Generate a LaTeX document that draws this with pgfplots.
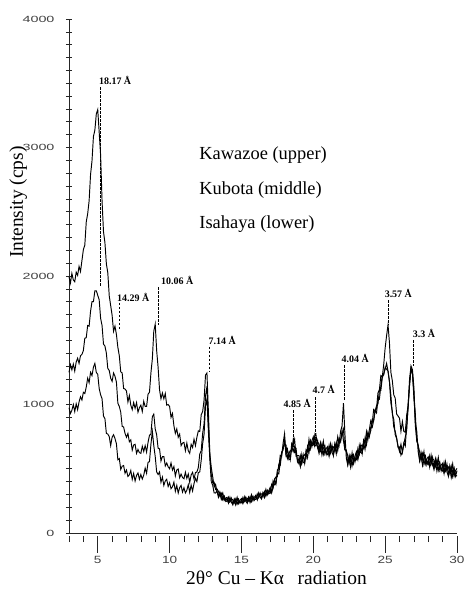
\documentclass[border=0pt]{standalone}
\usepackage{fontspec}
\setmainfont{Liberation Serif}
\setsansfont{Liberation Sans}
\usepackage{pgfplots}
\usepackage{pgfplotstable}
\pgfplotsset{compat=1.18}

% x = 2theta, u = Kawazoe (upper), m = Kubota (middle), l = Isahaya (lower)
\pgfplotstableread{
x u m l
3.0 1995 1250 975
3.1 1945 1310 930
3.2 2020 1270 955
3.3 1970 1315 1000
3.4 1955 1260 945
3.5 2030 1330 1005
3.6 2005 1360 960
3.7 2075 1320 1020
3.8 2035 1380 1060
3.9 2120 1390 1035
4.0 2205 1420 1095
4.1 2240 1515 1085
4.2 2420 1520 1135
4.3 2485 1615 1205
4.4 2585 1610 1170
4.5 2790 1725 1250
4.6 2895 1800 1225
4.7 3085 1800 1290
4.8 3135 1885 1320
4.9 3260 1885 1250
5.0 3295 1850 1235
5.1 3120 1815 1125
5.2 2940 1670 1075
5.3 2585 1615 1045
5.4 2345 1470 910
5.5 2260 1455 890
5.6 2095 1400 775
5.7 2025 1280 770
5.8 1845 1265 750
5.9 1770 1205 680
6.0 1695 1180 745
6.1 1570 1245 765
6.2 1610 1220 735
6.3 1545 1175 695
6.4 1445 1010 570
6.5 1380 985 580
6.6 1255 940 495
6.7 1245 830 520
6.8 1125 825 525
6.9 1120 775 465
7.0 1105 745 490
7.1 1020 775 440
7.2 1070 710 453
7.3 995 725 487
7.4 960 645 417
7.5 1015 685 463
7.6 970 690 405
7.7 1015 620 448
7.8 940 650 467
7.9 975 625 418
8.0 995 620 455
8.1 945 675 420
8.2 1025 635 450
8.3 985 680 505
8.4 985 630 465
8.5 1080 705 550
8.6 1095 760 555
8.7 1245 770 690
8.8 1355 905 790
8.9 1570 925 680
9.0 1625 810 595
9.1 1420 765 475
9.2 1290 660 455
9.3 1115 655 475
9.4 1045 560 395
9.5 1090 595 435
9.6 1045 595 370
9.7 1085 522 405
9.8 995 545 418
9.9 1000 515 362
10.0 985 500 391
10.1 900 545 345
10.2 930 490 360
10.3 835 517 395
10.4 775 444 325
10.5 810 491 370
10.6 745 498 311
10.7 770 430 353
10.8 680 458 370
10.9 700 432 318
11.0 705 422 352
11.1 640 473 312
11.2 700 425 333
11.3 640 459 376
11.4 620 394 316
11.5 690 452 373
11.6 665 472 327
11.7 730 420 385
11.8 680 470 425
11.9 745 475 400
12.0 795 510 470
12.1 790 615 475
12.2 920 640 565
12.3 945 775 695
12.4 1035 850 770
12.5 1230 1065 990
12.6 1245 1140 1040
12.7 945 845 790
12.8 615 605 580
12.9 510 455 400
13.0 438 391 371
13.1 359 395 312
13.2 378 338 311
13.3 320 343 330
13.4 290 324 277
13.5 321 287 306
13.6 286 309 261
13.7 312 257 285
13.8 254 274 291
13.9 272 252 249
14.0 278 244 269
14.1 234 278 235
14.2 278 242 245
14.3 238 265 271
14.4 221 259 223
14.5 266 233 257
14.6 241 265 218
14.7 278 224 251
14.8 229 250 266
14.9 255 236 232
15.0 268 235 259
15.1 231 276 232
15.2 282 246 248
15.3 246 273 279
15.4 233 271 235
15.5 281 248 272
15.6 259 283 236
15.7 298 244 271
15.8 251 272 288
15.9 279 260 256
16.0 294 261 285
16.1 259 304 260
16.2 312 276 278
16.3 278 305 311
16.4 267 305 269
16.5 317 284 308
16.6 298 322 275
16.7 340 286 313
16.8 297 318 334
16.9 329 310 306
17.0 355 308 342
17.1 315 378 315
17.2 405 352 353
17.3 375 412 417
17.4 385 437 380
17.5 490 440 468
17.6 505 535 460
17.7 605 525 555
17.8 595 617 630
17.9 700 665 645
18.0 773 694 730
18.1 611 686 607
18.2 652 582 583
18.3 570 618 626
18.4 574 641 571
18.5 699 635 676
18.6 683 724 634
18.7 729 626 673
18.8 597 632 659
18.9 603 565 554
19.0 603 539 580
19.1 521 601 517
19.2 612 542 545
19.3 550 598 608
19.4 544 611 543
19.5 649 585 628
19.6 633 674 586
19.7 729 626 675
19.8 657 692 721
19.9 718 680 671
20.0 748 684 727
20.1 681 758 677
20.2 752 682 685
20.3 660 709 720
20.4 624 692 625
20.5 704 640 684
20.6 653 694 607
20.7 714 611 661
20.8 617 652 682
20.9 658 620 612
21.0 673 610 654
21.1 601 682 601
21.2 692 623 627
21.3 625 673 684
21.4 604 671 604
21.5 699 635 678
21.6 663 704 616
21.7 749 641 689
21.8 687 712 739
21.9 793 720 709
22.0 833 764 800
22.1 1010 806 717
22.2 772 647 648
22.3 580 638 646
22.4 529 601 533
22.5 604 543 587
22.6 553 597 510
22.7 624 523 573
22.8 542 579 609
22.9 598 562 554
23.0 633 570 614
23.1 576 656 575
23.2 682 612 615
23.3 625 673 683
23.4 619 686 617
23.5 724 660 702
23.6 698 739 650
23.7 789 686 733
23.8 727 759 786
23.9 803 760 749
24.0 875 795 825
24.1 855 885 820
24.2 960 875 875
24.3 945 950 955
24.4 970 990 935
24.5 1090 1005 1035
24.6 1115 1110 1040
24.7 1225 1110 1145
24.8 1215 1205 1225
24.9 1310 1240 1230
25.0 1440 1275 1290
25.1 1535 1320 1275
25.2 1620 1260 1260
25.3 1480 1180 1175
25.4 1250 1070 1010
25.5 1185 925 945
25.6 1075 885 825
25.7 1050 765 790
25.8 925 735 740
25.9 910 675 665
26.0 893 634 670
26.1 791 691 605
26.2 867 627 628
26.3 790 693 701
26.4 784 746 676
26.5 919 800 841
26.6 993 1000 975
26.7 1200 1150 1160
26.8 1300 1280 1270
26.9 1270 1245 1240
27.0 1133 1054 1090
27.1 861 926 837
27.2 792 717 718
27.3 630 678 686
27.4 564 631 561
27.5 629 565 606
27.6 573 616 526
27.7 634 533 580
27.8 537 575 602
27.9 578 543 532
28.0 593 532 574
28.1 517 600 517
28.2 604 537 539
28.3 528 579 588
28.4 498 568 499
28.5 579 518 560
28.6 527 571 482
28.7 587 487 535
28.8 489 527 555
28.9 529 494 484
29.0 543 482 525
29.1 466 549 467
29.2 552 485 488
29.3 475 526 536
29.4 444 514 446
29.5 524 463 506
29.6 475 519 431
29.7 538 438 487
29.8 443 481 510
29.9 486 451 442
30.0 503 442 485
}\xrd

\begin{document}
\begin{tikzpicture}
\useasboundingbox (-69bp,-56bp) rectangle (395bp,533bp);
\begin{axis}[
  at={(0,0)}, anchor=south west,
  scale only axis, width=388bp, height=514bp,
  xmin=3, xmax=30, ymin=0, ymax=4000,
  axis x line=bottom, axis y line=left,
  axis line style={-, line width=0.7bp, black!85},
  clip=false,
  xtick={5,10,...,30},
  xticklabels={5,10,15,20,25,30},
  minor xtick={3,4,...,30},
  ytick={0,1000,2000,3000,4000},
  yticklabels={0,1000,2000,3000,4000},
  minor ytick={0,100,...,4000},
  major tick length=13bp, minor tick length=6bp,
  tick style={line width=0.6bp, black!85},
  major x tick style={yshift=-13bp},
  minor x tick style={yshift=-6bp},
  major y tick style={draw=none},
  xticklabel style={font=\fontsize{10.5}{10.5}\selectfont\sffamily, text=black!75, xscale=1.3, yshift=-13.5bp},
  yticklabel style={font=\fontsize{9}{9}\selectfont\sffamily, text=black!75, xscale=1.6, xshift=-1.5bp},
]
\addplot[black, line width=0.95bp] table[x=x, y=u] {\xrd};
\addplot[black, line width=0.95bp] table[x=x, y=m] {\xrd};
\addplot[black, line width=0.95bp] table[x=x, y=l] {\xrd};

% peak markers
\tikzset{pk/.style={dashed, dash pattern=on 2.5bp off 1.5bp, line width=0.7bp, black},
         pl/.style={anchor=base west, inner sep=0pt, font=\fontsize{10}{10}\selectfont\bfseries}}
\draw[pk] (axis cs:5.18,3470) -- (axis cs:5.18,1915);
\node[pl] at (axis cs:5.08,3493) {18.17 Å};
\draw[pk] (axis cs:6.47,1790) -- (axis cs:6.47,1580);
\node[pl] at (axis cs:6.34,1805) {14.29 Å};
\draw[pk] (axis cs:9.20,1914) -- (axis cs:9.20,1620);
\node[pl] at (axis cs:9.40,1937) {10.06 Å};
\draw[pk] (axis cs:12.77,1450) -- (axis cs:12.77,1260);
\node[pl] at (axis cs:12.70,1470) {7.14 Å};
\draw[pk] (axis cs:18.61,957) -- (axis cs:18.61,670);
\node[pl] at (axis cs:17.92,980) {4.85 Å};
\draw[pk] (axis cs:20.15,1058) -- (axis cs:20.15,740);
\node[pl] at (axis cs:19.94,1089) {4.7 Å};
\draw[pk] (axis cs:22.17,1307) -- (axis cs:22.17,1035);
\node[pl] at (axis cs:21.96,1330) {4.04 Å};
\draw[pk] (axis cs:25.24,1813) -- (axis cs:25.24,1620);
\node[pl] at (axis cs:24.96,1836) {3.57 Å};
\draw[pk] (axis cs:26.98,1500) -- (axis cs:26.98,1300);
\node[pl] at (axis cs:26.92,1525) {3.3 Å};

% sample names
\node[anchor=base west, inner sep=0pt, font=\fontsize{18.5}{18.5}\selectfont] at (axis cs:12.06,2910) {Kawazoe (upper)};
\node[anchor=base west, inner sep=0pt, font=\fontsize{18.5}{18.5}\selectfont] at (axis cs:12.06,2638) {Kubota (middle)};
\node[anchor=base west, inner sep=0pt, font=\fontsize{18.5}{18.5}\selectfont] at (axis cs:12.06,2373) {Isahaya (lower)};

% axis titles
\node[font=\fontsize{19.5}{19.5}\selectfont] at (axis cs:17.44,-352) {2θ° Cu – Kα\hspace{0.7em}radiation};
\node[rotate=90, font=\fontsize{19.5}{19.5}\selectfont] at (axis cs:-0.53,2575) {Intensity (cps)};
\end{axis}
\end{tikzpicture}
\end{document}
